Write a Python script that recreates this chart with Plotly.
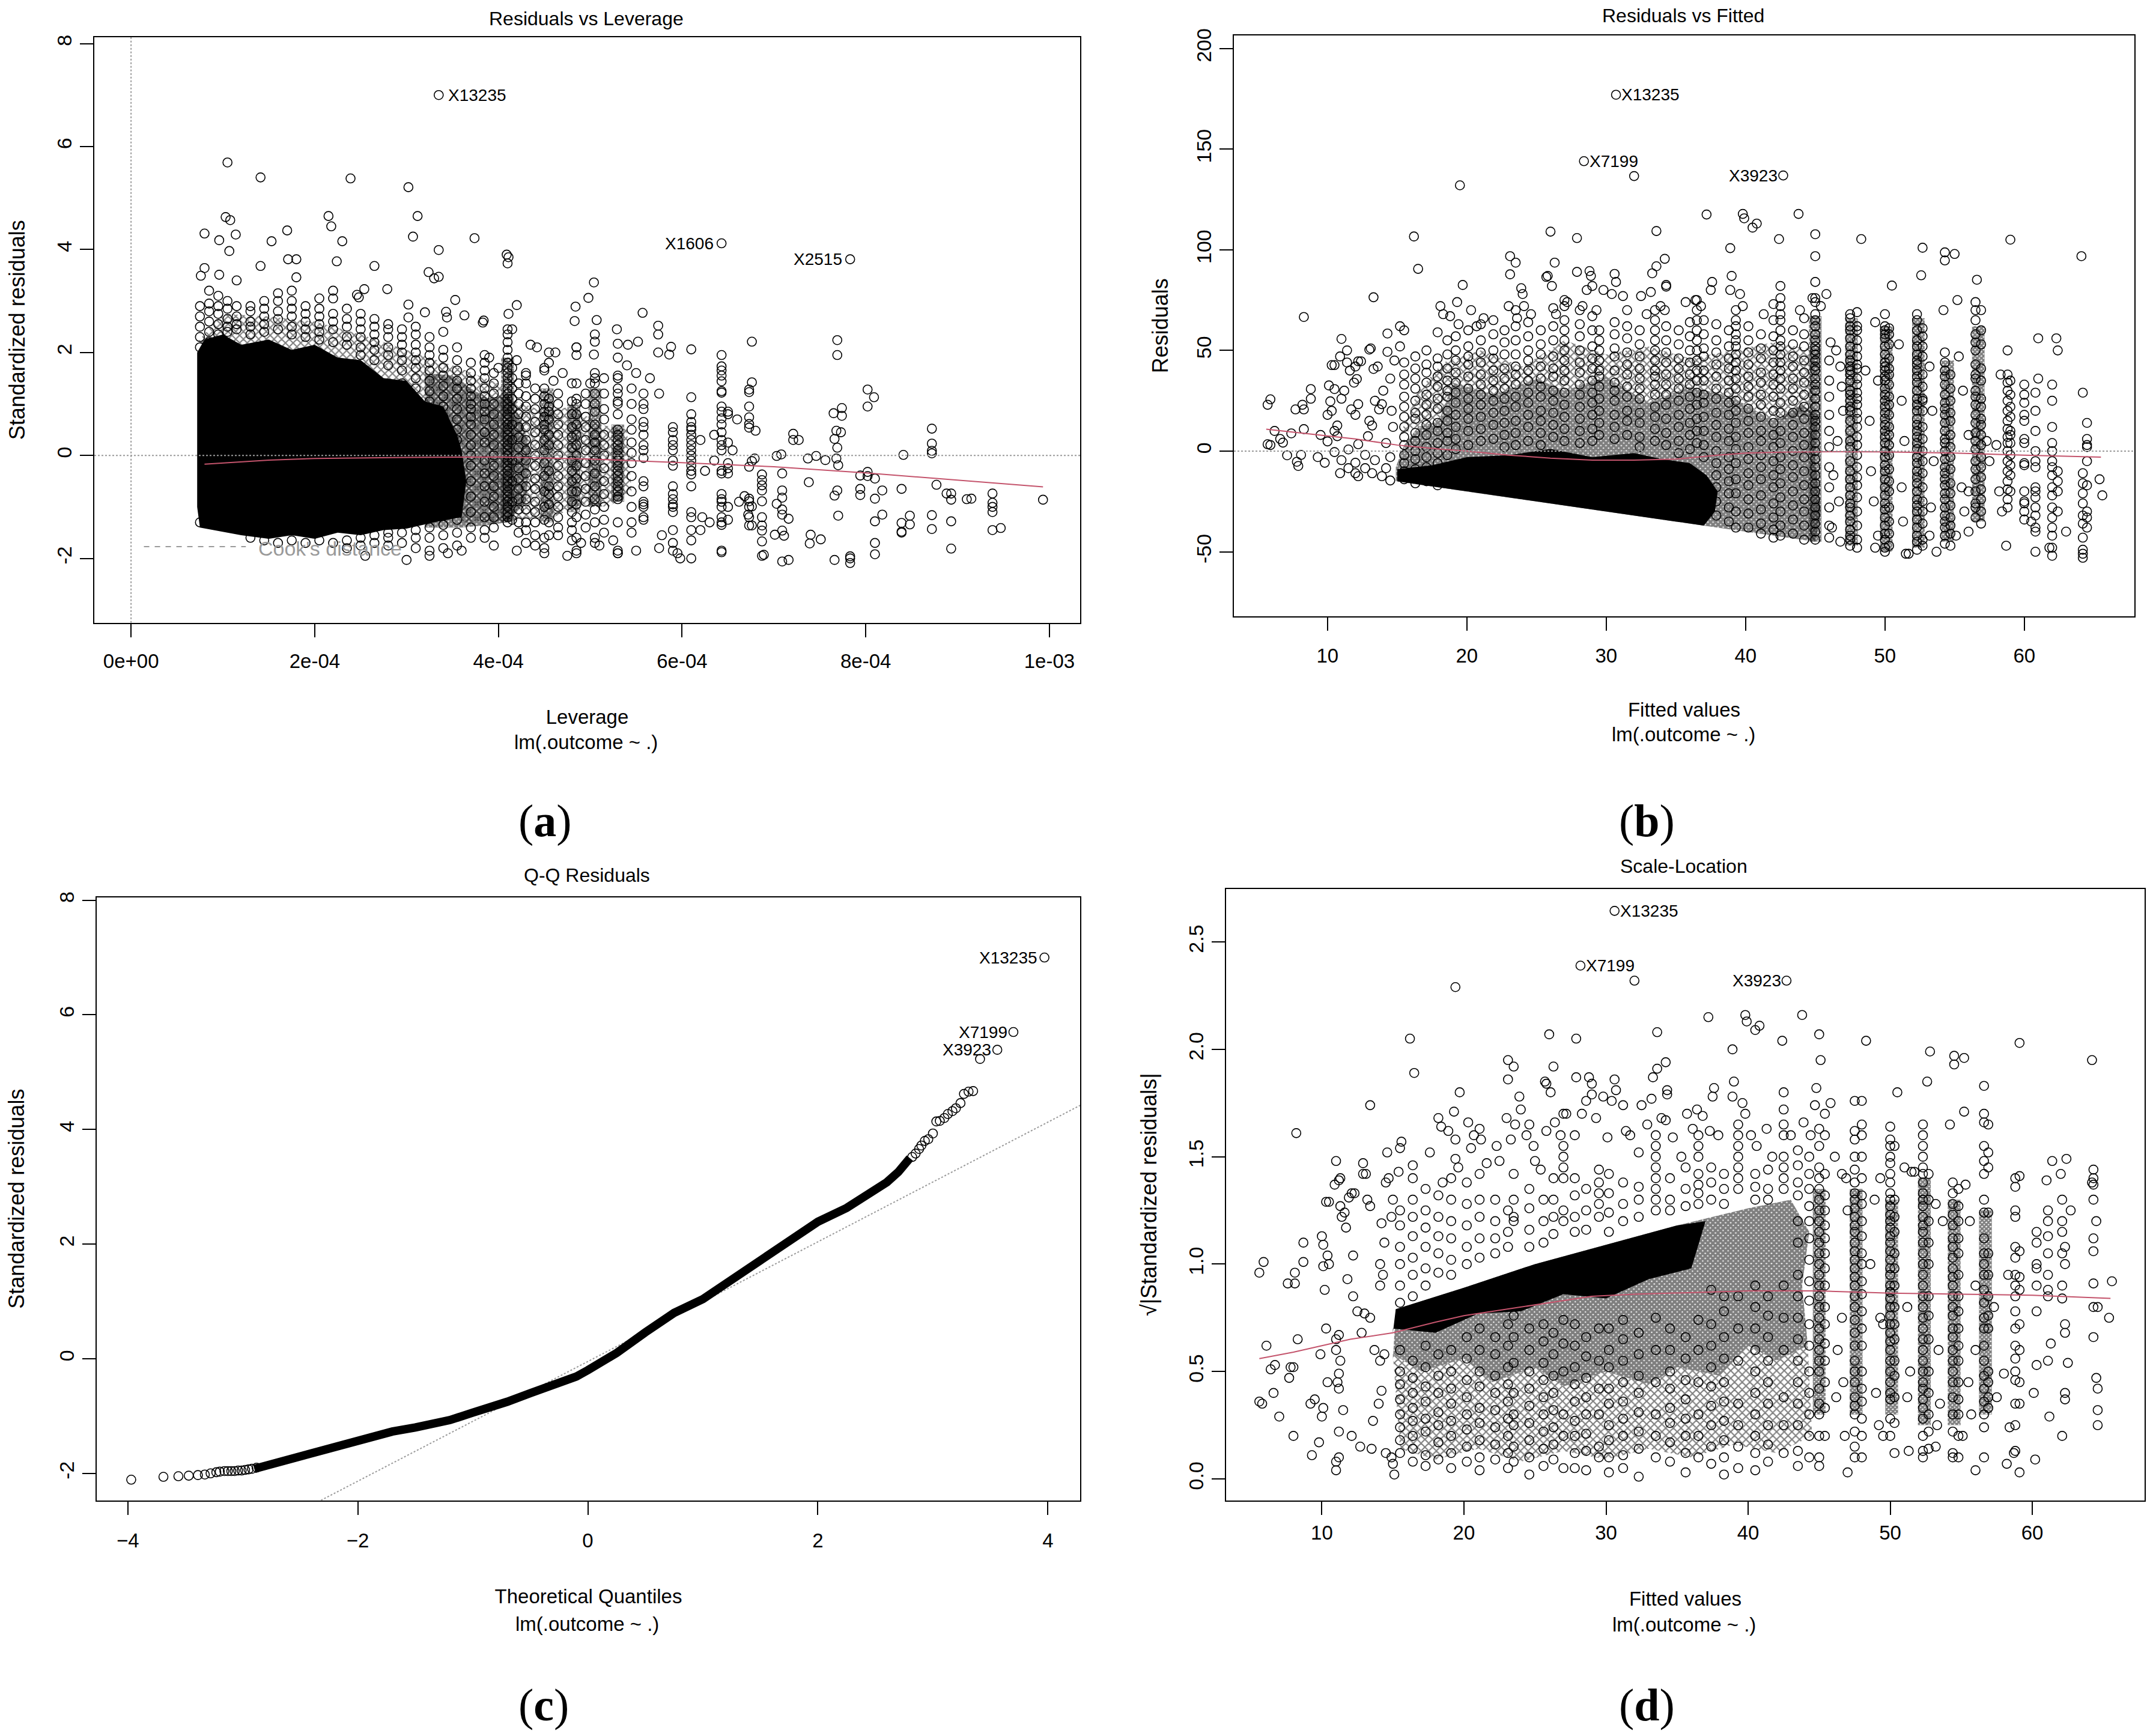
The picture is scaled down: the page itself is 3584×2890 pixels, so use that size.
import plotly.graph_objects as go

W, H = 3584, 2890
SANS = "Liberation Sans, Arial, sans-serif"
SERIF = "Liberation Serif, serif"
RED = "#C4546C"
GREY = "#9a9a9a"

# ---------- panel (a) Residuals vs Leverage; leverage in units of 1e-4 ----------
a_free = [(3.35,7.0),(1.05,5.69),(1.41,5.4),(2.39,5.38),(3.02,5.21),(3.12,4.65),(1.03,4.63),(1.08,4.57),(.8,4.31),(1.14,4.29),(.96,4.18),(1.53,4.16),(1.7,4.37),(2.15,4.65),(2.18,4.45),(2.3,4.16),(1.07,3.97),(3.07,4.25),(3.35,3.99),(3.74,4.22),(4.09,3.9),(4.11,3.85),(4.1,3.73),(6.43,4.12),(7.83,3.81),(1.71,3.81),(1.8,3.81),(1.41,3.68),(2.24,3.77),(2.65,3.68),(.8,3.64),(.96,3.51),(.76,3.49),(1.8,3.46),(3.24,3.56),(3.35,3.47),(3.3,3.44),(5.04,3.36),(4.98,3.06),(4.84,2.89),(4.83,2.61),(5.07,2.63),(5.57,2.77),(5.29,2.45),(5.74,2.52),(5.74,2.35),(4.2,2.92),(4.11,2.75),(3.53,3.02),(3.43,2.79),(3.44,2.68),(3.63,2.72),(3.84,2.62),(3.83,2.58),(3.2,2.78),(3.02,2.93),(3.02,2.68),(2.79,3.23),(2.54,3.23),(2.46,3.12),(2.48,3.07),(5.05,2.35),(5.05,2.21),(5.04,1.96),(5.3,2.17),(5.41,2.15),(5.52,2.21),(5.74,2),(5.86,1.96),(5.88,2.11),(6.1,2.06),(6.76,2.21),(7.69,2.24),(7.69,1.95),(8.02,1.28),(8.09,1.13),(8.02,.95),(7.74,.77),(7.65,.82),(7.74,.92),(8.72,.52),(8.72,.23),(8.72,.09),(8.72,.04),(8.41,.01),(7.73,.45),(7.68,.48),(7.66,.32),(7.69,.15),(7.21,.42),(7.27,.3),(7.21,.3),(7.03,-.01),(7.08,.02),(7.37,-.06),(7.46,-.01),(7.56,-.09),(7.68,-.06),(7.7,-.19),(7.38,-.52),(7.69,-.68),(7.66,-.78),(7.7,-1.17),(7.94,-.39),(8.02,-.32),(8.02,-.4),(8.1,-.45),(7.94,-.65),(7.94,-.77),(8.18,-.68),(8.1,-.84),(8.18,-1.15),(8.1,-1.28),(8.39,-.65),(8.77,-.57),(8.88,-.74),(8.93,-.74),(8.93,-.86),(9.1,-.85),(9.15,-.84),(9.38,-.74),(9.38,-.92),(9.38,-1.0),(9.38,-1.1),(9.93,-.86),(8.48,-1.17),(8.39,-1.31),(8.48,-1.34),(8.39,-1.48),(8.39,-1.5),(8.72,-1.16),(8.72,-1.43),(8.93,-1.28),(8.93,-1.81),(9.38,-1.45),(9.47,-1.41),(8.1,-1.7),(8.1,-1.92),(7.83,-1.96),(7.83,-2),(7.83,-2.09),(7.66,-2.03),(7.09,-2.06),(7.16,-2.03),(7.39,-1.71),(7.4,-1.54),(7.51,-1.63),(6.87,-1.95),(6.89,-1.93),(7.01,-1.54),(7.09,-1.46),(7.11,-1.56),(7.09,-1.15),(7.16,-1.23),(7.09,-1.05),(7.09,-.82),(7.09,-.68),(7.09,-.35),(7.03,-.94),(6.79,-.06),(6.76,-.11),(6.73,-.22),(6.8,.48),(6.76,1.42),(6.68,-.79),(6.73,-.84),(6.76,-.99),(6.72,-1.15),(6.76,-1.36),(6.2,.3),(6.25,-.3),(6.22,-1.2),(6.3,-1.3),(6.35,.4),(6.35,-.1),(6.55,.1),(6.6,.7),(6.62,-.9),(4.15,2.45),(4.35,2.15),(4.42,2.1),(4.5,1.7),(4.62,2.0),(4.7,1.6),(4.85,2.1),(4.2,1.85),(4.3,1.55),(5.15,1.5),(5.4,1.75),(5.5,1.6),(5.65,1.5),(5.75,1.2),(4.0,1.7),(3.9,1.9),(4.6,1.45),(4.85,1.4),(5.0,1.4),(2.55,-1.95),(3.0,-2.03),(3.25,-1.95),(3.45,-1.9),(3.6,-1.85),(3.85,-1.6),(3.95,-1.75),(4.2,-1.85),(4.4,-1.75),(4.5,-1.9),(4.65,-1.55),(4.75,-1.95),(4.85,-1.9),(4.9,-1.7),(5.05,-1.6),(5.1,-1.75),(5.25,-1.65),(5.3,-1.9),(5.5,-1.85),(5.75,-1.8),(5.78,-1.55),(5.95,-1.9),(5.98,-2.0),(6.2,-1.45)]
a_col_x = [.75,.85,.95,1.05,1.15,1.3,1.45,1.6,1.75,1.9,2.05,2.2,2.35,2.5,2.65,2.8,2.95,3.1,3.25,3.4,3.55,3.7,3.85,3.95,4.1,4.15,4.22,4.3,4.4,4.5,4.55,4.65,4.8,4.85,4.95,5.05,5.15,5.3,5.45,5.58,5.9,6.1,6.43,6.5,6.73,6.87]
a_col_y = [
 [2.9,2.7,2.5,2.3,2.1,-1.3],[3.2,2.95,2.8,2.6,2.4,2.2],[3.1,2.9,2.75,2.55,2.35],[3.0,2.85,2.65,2.5,2.4],[3.4,2.9,2.7,2.55,2.45],[2.9,2.8,2.6,2.5,2.35,-1.6],[3.0,2.85,2.7,2.55,2.4,-1.65],[3.15,3.0,2.8,2.65,2.45,-1.7],[3.2,3.0,2.85,2.7,2.5,2.35,-1.65],[2.9,2.75,2.6,2.45,2.3,-1.7],[3.05,2.85,2.7,2.55,2.4,2.25,-1.65],[3.2,3.05,2.75,2.6,2.45,2.2,-1.7],[2.85,2.65,2.5,2.3,2.15,-1.65,-1.8],[2.75,2.6,2.45,2.3,2.1,1.95,-1.6,-1.75],[2.65,2.5,2.35,2.2,2.05,1.85,-1.55,-1.7],[2.55,2.45,2.3,2.1,1.95,1.75,-1.5,-1.6,-1.75],[2.45,2.3,2.15,2,1.85,1.65,1.4,-1.5,-1.7],[2.5,2.35,2.15,2,1.85,1.7,1.5,1.3,-1.45,-1.6,-1.8],[2.3,2.1,1.95,1.8,1.65,1.45,1.25,1.05,-1.4,-1.6,-1.85],[2.4,2.05,1.9,1.7,1.55,1.35,1.15,.95,.75,-1.35,-1.55,-1.8],[2.1,1.85,1.65,1.45,1.3,1.1,.9,.7,.5,.3,-1.25,-1.5,-1.75],
 [1.8,1.6,1.45,1.3,1.15,1,.9,.75,.6,.4,.2,0,-.2,-.5,-.8,-1.1,-1.4,-1.6],
 [1.95,1.8,1.65,1.5,1.3,1.15,1,.85,.7,.45,.25,-.1,-.35,-.6,-.9,-1.2,-1.45],
 [1.6,1.4,1.2,1,.8,.6,.4,.2,0,-.2,-.4,-.6,-.8,-1,-1.2,-1.4],
 [2.45,2.35,2.2,2.05,1.9,1.8,1.7,1.6,1.5,1.4,1.3,1.2,1.1,1,.9,.8,.7,.6,.5,.4,.3,.2,.1,0,-.1,-.2,-.3,-.4,-.5,-.6,-.7,-.8,-.9,-1,-1.1,-1.2,-1.3],
 [1.7,1.5,1.3,1.1,.9,.6,.3,-.1,-.5,-.9,-1.25],
 [1.4,1.2,1,.8,.55,.35,.15,-.05,-.25,-.45,-.65,-.85,-1.05,-1.3,-1.5],
 [1.6,1.4,1.15,.95,.75,.55,.3,.1,-.1,-.35,-.6,-.85,-1.05,-1.3,-1.45,-1.7],
 [1.3,1.1,.9,.65,.45,.2,0,-.2,-.45,-.65,-.9,-1.1,-1.3,-1.55],
 [1.65,1.3,1.15,1,.85,.75,.6,.5,.3,.1,-.15,-.4,-.7,-1.0,-1.25,-1.6,-1.8],
 [2.0,1.8,1.1,.95,.85,.7,.4,.2,-.3,-.6,-.75,-.95,-1.3,-1.55],
 [1.2,1,.8,.6,.4,.2,0,-.2,-.4,-.6,-.8,-1,-1.2,-1.4],
 [1.4,1.05,.8,.55,.35,.15,-.1,-.3,-.5,-.7,-.9,-1.1,-1.3,-1.45,-1.65],
 [2.1,1.95,1.1,1,.8,.6,.4,.2,0,-.2,-.45,-.7,-.95,-1.2,-1.6,-1.85],
 [1.2,1,.75,.55,.3,.1,-.15,-.4,-.65,-.9,-1.15,-1.4],
 [1.6,1.5,1.4,1.2,1,.85,.6,.4,.25,.1,-.1,-.35,-.6,-.85,-1.05,-1.3,-1.7],
 [1.2,.9,.7,.4,.2,0,-.25,-.5,-.75,-1,-1.25,-1.5],
 [1.9,1.55,1.5,1.3,1.2,1.05,1,.8,.5,.4,.3,.2,.1,0,-.1,-.2,-.3,-.4,-.5,-.6,-.7,-.8,-.85,-1.3,-1.85,-1.9],
 [1.3,1,.7,.5,.25,.05,-.15,-.4,-.7,-1,-1.3,-1.5],
 [1.2,1,.9,.65,.55,.4,.2,.1,-.05,-.5,-.6,-.9,-.95,-1,-1.2,-1.25],
 [.55,.45,.3,.2,.1,-.1,-.2,-.6,-.75,-.85,-.95,-1.0,-1.1,-1.45,-1.7,-1.85],
 [1.13,.8,.65,.55,.5,.4,.3,.2,.1,0,-.1,-.2,-.3,-.37,-.6,-1.1,-1.2,-1.45,-1.65,-2],
 [1.95,1.73,1.65,1.55,1.44,1.25,1.22,.95,.85,.72,.6,.45,.3,.2,.1,-.3,-.35,-.75,-.85,-.9,-1,-1.2,-1.3,-1.35,-1.85,-1.88],
 [.85,.8,.25,-.15,-.25,-.35,-1,-1.25],
 [1.28,1.23,.95,.74,.61,.54,-.89,-1.0,-1.2,-1.36],
 [-.37,-.48,-.58,-.68,-.89,-1.2,-1.36,-1.46,-1.67],
]
a_solid_x = [.72,.8,1,1.2,1.5,1.75,2,2.25,2.5,2.75,3,3.2,3.4,3.55,3.6,3.65,3.6,3.3,3,2.75,2.5,2.25,2,1.75,1.5,1.2,.9,.75,.72]
a_solid_y = [2.0,2.25,2.35,2.15,2.25,2.05,2.15,1.9,1.85,1.5,1.45,1.05,.95,.4,.1,-.5,-1.2,-1.3,-1.42,-1.45,-1.55,-1.5,-1.62,-1.55,-1.62,-1.55,-1.45,-1.4,-1]
a_mid_x = [3.2,3.5,3.7,3.9,4.1,4.25,4.35,4.3,4.1,3.9,3.6,3.2]
a_mid_y = [1.6,1.55,1.3,1.1,1.2,.7,.1,-.9,-1.3,-1.35,-1.4,-1.4]
a_light_x = [.72,1,1.5,2,2.5,3,3.5,4,4.2,4.5,4.8,5.1,5.4,5.45,5.2,4.9,4.6,4.3,3.6,3.6]
a_light_y = [2.2,2.75,2.7,2.6,2.35,2.05,1.75,1.4,1.05,.85,.95,.6,.5,-.7,-1.0,-.95,-1.2,-1.25,-1.3,.2]
a_band_x = [4.1,4.53,4.82,5.05,5.3]
a_band_lo = [-1.3,-1.3,-1.1,-1.0,-.9]
a_band_hi = [1.9,1.3,1.0,1.3,.6]
a_smooth_x = [.8,1.5,2,3,4,5,6,7,8,9,9.93]
a_smooth_y = [-.17,-.09,-.06,-.04,-.03,-.07,-.14,-.22,-.34,-.48,-.61]
a_cook_x = [.14,.5,1.0,1.25]
a_cook_y = [-1.77,-1.77,-1.77,-1.77]

# ---------- panel (b) Residuals vs Fitted ----------
b_free = [(30.7,177),(28.4,144),(32,136.6),(42.7,136.9),(19.5,132),(37.2,117.5),(39.8,117.8),(39.9,115.6),(40.8,113),(40.5,111),(43.8,117.8),(16.2,106.6),(26,109),(27.9,105.8),(33.6,109.3),(42.4,105.3),(45,107.7),(48.3,105.3),(59,105),(38.9,100.8),(52.7,101),(54.3,98.7),(54.3,94.7),(55,97.9),(64.1,96.8),(45,96.8),(23.1,96.8),(23.5,93.6),(23.1,87.8),(16.5,90.5),(26.3,93.6),(25.7,86.5),(25.8,87),(27.9,89),(28.8,89.4),(28.9,87),(30.6,88),(33.3,88.3),(33.6,91.8),(34.2,95.5),(34.3,82.5),(34.3,81.7),(39,87),(52.6,87.3),(56.6,85.1),(50.5,82.2),(13.3,76.4),(8.3,66.6),(19.7,82.5),(23.9,80.9),
(5.7,23),(5.9,25.7),(5.7,3.4),(5.9,3),(6.2,10),(6.6,6),(6.8,4.2),(7.4,8.8),(7.1,-2.1),(7.7,20.7),(8.3,20.7),(8.2,23),(8.3,10.9),(8.8,26),(8.8,30.8),(8.1,-1.9),(7.8,-5.3),(7.9,-7.4),(9.3,-3),(9.5,8),(10.1,32.6),(10.5,30.8),(10.2,24.7),(11,26),(11,55.7),(11.4,50),(10.9,47),(10.5,42.7),(10.3,42.7),(11.4,44),(12,42),(11.6,40),(12.2,44.6),(12.4,44.6),(12.1,35.8),(11.9,34),(13.1,51),(13,50.4),(13.6,42),(13.3,40.8),(14.3,58.4),(14.3,49.3),(11.2,30),(10.3,20),(10,18),(11.7,20.7),(12.2,23.3),(12,18),(13.2,12.7),(12.9,7.4),(13.9,23.3),(13.7,20.7),(10.7,12.7),(10.5,10),(10.7,7.4),(10,4.8),(9.8,-5.8),(10.5,-.5),(11,-4.5),(10.9,-11),(11.5,-8.5),(12,-11),(12.2,-12.5),(12.7,-8.5),(13.2,-11),(13.9,-12.5),(14.5,-14.6),(12,-5.8),(12.7,-1.9),(13.4,-4.5),(14.2,-8.5),(11.5,.8),(12.2,3.4),(13,15),(13.4,25),(14,30),(14.5,36),(14.7,12),(14.2,4),(14.5,-3),(14.6,20),(14.8,45),(15.2,62),(15.5,60),(15.2,52),(17.9,59),(18.1,72),(18.3,68),(18.8,67),(19.3,74),(19.4,63),(20.3,70),(20.7,62),(21.2,66),(23,72),(23.6,66),(24,78),(24.1,72),(24.6,68),(26.1,82),(26.4,68),(27.2,74),(28.3,72),(28.6,80),(29,82),(29.3,70),(29.8,80),(30.4,78),(30.7,84),(31.2,77),(32.5,77),(32.9,68),(33.2,79),(33.9,72),(34.2,70),(35.7,74),(36.4,75),(36.8,72),(37.5,80),(37.6,84),(38.9,80),(39.6,78),(39.8,72),(41.3,68),(43.9,70),(44.8,76),(45.4,72),(45.8,78),(46.1,54),(46.5,50),(46.8,42),(46.9,32),(47,20),(46.6,5),(46.3,-12),(46.7,-25),(46.2,-38),(46.8,-45),(48.6,40),(48.9,15),(49,-10),(49.2,-25),(49.3,64),(49.5,35),(49.3,-48),(49.5,-42),(51,53),(51.2,25),(51.4,5),(51.2,-18),(51.3,-35),(51.5,-51),(51.7,-51),(53.2,42),(53.4,20),(53.5,-5),(53.3,-28),(53.2,-42),(53.7,-50),(54.2,70),(55.2,75),(55.6,30),(55.3,47),(55.5,-18),(55.7,-30),(55.1,-42),(56,8),(56,-20),(56,-40),(57.3,5),(57.5,-5),(58.3,38),(58,3),(58.2,-20),(58.4,-30),(58.7,-47),(61,56),(61,36),(60.5,-35),(61.8,-48),(62.3,56),(62.4,50),(63,-40),(65.4,-14),(65.6,-22)]
b_col_x = [15.5,16.3,17.1,17.9,18.6,19.2,20.1,21,21.9,22.7,23.5,24.4,25.3,26.2,27,28.1,29,29.5,30.6,31.5,32.4,33.5,34.3,35.2,36,36.5,37,37.9,38.8,39.3,40.2,41.1,42,42.5,43.4,44.2,45,46,47.5,48,50,50.3,52.3,52.7,54.3,54.7,56.5,56.9,58.8,59,60,60.8,62,62.4,64.2,64.5]
b_col_y = [
 [44,38,33,27,22,17,12,7,3,-2,-6,-10,-14],[47,41,36,31,25,19,16,9,5,0,-4,-9,-13,-16],[50,43,39,34,28,23,18,13,8,2,-3,-8,-15],[46,42,37,32,26,21,14,10,4,-1,-6,-12,-17],[55,48,41,35,30,27,20,15,9,5,-2,-9],[57,50,45,39,34,29,24,18,12,6,1],[60,52,47,43,37,31,26,21,16,10,3],[63,55,49,44,38,33,28,23,17,11,5],[65,58,50,46,40,35,30,25,19,13,6],[60,54,48,41,36,31,26,20,14,8,2],
 [70,62,55,48,42,38,33,27,22,15,9,3],[64,57,50,45,40,35,29,24,18,12,5],[60,53,48,42,36,32,27,20,15,9,3],[71,62,55,47,41,37,30,25,19,13,7],[75,72,65,60,55,50,45,40,35,29,23,17,11,5],[70,63,57,50,44,39,33,28,22,16,10,4],[67,60,52,46,41,35,29,24,18,11,5],[60,55,50,45,40,37,32,26,20,14,8],[64,58,51,47,40,34,30,25,18,12,6],[70,62,56,49,43,38,32,27,20,15,8],[60,53,47,41,36,31,26,19,14,7,2],[70,65,60,55,50,45,40,37,33,28,22,17,11,5],[62,55,49,44,38,33,28,23,16,9,3],[60,53,46,41,36,31,25,18,12,5,-1],[64,57,50,44,38,33,27,21,14,8,1],[75,70,65,60,55,50,45,40,35,29,23,16,10,4],[65,58,51,47,40,35,28,24,17,10,3,-3],[63,55,49,43,37,31,26,19,13,7,0,-6,-12,-18,-25,-32],[60,52,46,41,35,29,24,18,11,5,-3,-9,-15,-21,-28,-35],[70,65,62,58,55,52,48,44,40,36,31,25,20,14,7,1,-6,-14,-21,-30,-38],[62,55,49,43,37,32,27,21,15,9,2,-4,-11,-17,-24,-31,-38],[58,51,46,39,34,28,23,17,10,5,-2,-8,-14,-22,-29,-36,-41],[73,65,57,50,44,38,33,27,20,14,8,2,-5,-12,-18,-26,-33,-39,-43],[82,76,72,68,65,60,55,52,48,44,40,36,31,24,19,10,4,-3,-9,-16,-23,-30,-37,-42],[60,53,47,42,36,31,25,19,13,7,0,-7,-13,-20,-27,-34,-41],[66,58,52,45,39,34,28,22,16,9,3,-3,-10,-17,-24,-30,-37,-44],
 [84,76,74,68,65,62,58,55,52,50,48,45,42,40,36,33,30,26,22,18,15,12,8,4,0,-4,-8,-12,-16,-20,-24,-28,-32,-36,-40,-44],
 [45,35,27,18,10,2,-8,-18,-28,-37,-43],
 [68,66,62,60,56,52,48,45,42,40,38,35,30,28,25,22,20,15,10,5,2,-5,-10,-14,-18,-22,-26,-28,-32,-35,-39,-42,-44,-47],
 [69,62,60,55,51,47,43,41,36,33,29,26,23,19,16,12,7,3,-2,-8,-13,-17,-23,-30,-37,-44,-48],
 [68,62,60,58,56,52,48,44,42,40,37,35,31,28,25,22,19,16,13,10,7,4,0,-3,-7,-10,-14,-18,-22,-26,-29,-33,-37,-41,-44,-48,-50],
 [61,58,53,46,41,38,33,27,23,18,12,8,3,-2,-9,-15,-20,-28,-35,-41,-47],
 [68,65,60,55,52,48,45,43,40,37,34,30,26,23,20,16,13,10,7,4,1,-3,-6,-10,-13,-16,-20,-24,-27,-30,-34,-38,-42,-45,-49],
 [61,57,52,47,38,32,26,25,20,12,6,0,-5,-11,-18,-25,-30,-36,-44,-47],
 [49,44,40,37,33,28,24,21,18,14,10,6,4,0,-4,-8,-11,-14,-17,-21,-24,-28,-32,-35,-38,-42,-46],
 [38,31,25,19,15,8,2,-3,-9,-16,-21,-27,-33,-37,-41,-47],
 [74,70,65,58,54,50,43,38,36,30,27,23,18,14,9,5,1,-5,-9,-14,-20,-26,-28,-33],
 [70,60,53,41,35,26,22,16,13,8,3,-3,-8,-13,-19,-24,-30,-36],
 [50,38,34,30,25,20,15,11,7,4,0,-5,-10,-15,-19,-24,-28],
 [35,28,22,17,10,8,4,-2,-7,-12,-20],
 [33,28,24,18,15,6,4,-6,-7,-20,-25,-30,-34,-26],
 [29,20,10,0,-5,-8,-18,-20,-23,-28,-32,-38,-40,-50],
 [33,25,12,4,0,-5,-8,-12,-18,-22,-28,-33,-38,-42,-48,-52],
 [-10,-15,-20,-30],
 [29,-11,-16,-21,-26,-32,-36,-43,-49,-51,-53],
 [14,6,3,2,-5,-17,-30,-33,-38],
]
b_solid_x = [15,25,35,37,37.8,38,37.2,36,34,32,29,26,23,20,17.5,15]
b_solid_y = [-15,-25,-35,-37,-30,-20,-12,-6,-4,-1,-3,1,-2,-3,-7,-9]
b_mid_x = [14.9,38,45,45.4,45,45.2,44,42,39,36,33,30,27,25,22,19,18,16.5,15.5,14.9]
b_mid_y = [-15,-38,-45,-30,-5,18,23,15,27,32,24,37,30,36,28,34,15,12,3,-8]
b_light_x = [15.2,16.5,18.3,21,24,27,30,33,36,39,42,45.2,45,42,39,36,33,30,27,25,22,19,18,16.5]
b_light_y = [8,30,44,50,42,55,48,52,46,50,54,50,18,15,27,32,24,37,30,36,28,34,15,12]
b_band_x = [45,47.6,50.1,52.4,54.5,56.7]
b_band_lo = [-45,-47,-50,-48,-45,-35]
b_band_hi = [67,66,62,66,45,62]
b_smooth_x = [5.6,8,10,12,15,18,20,23,26,29,32,35,38,40,43,47,50,55,60,65.5]
b_smooth_y = [10.9,9,7.5,6,3,1,0,-2,-3.5,-4.5,-4.5,-4,-2,-1,-.5,-.3,-.4,-1,-2,-3]

# ---------- panel (c) Q-Q Residuals ----------
c_band_x = [-2.9,-2.7,-2.5,-2.2,-2,-1.85,-1.7,-1.5,-1.2,-1,-.85,-.7,-.5,-.25,-.1,0,.1,.25,.5,.75,1,1.25,1.5,1.75,2,2.25,2.5,2.6,2.7,2.8]
c_band_y = [-1.92,-1.81,-1.71,-1.54,-1.41,-1.33,-1.27,-1.2,-1.07,-.94,-.85,-.75,-.6,-.42,-.31,-.2,-.08,.1,.46,.8,1.04,1.37,1.69,2.06,2.39,2.63,2.93,3.08,3.26,3.5]
c_end_x = [-3.97,-3.69,-3.56,-3.47,-3.39,-3.33,-3.28,-3.23,-3.2,-3.16,-3.13,-3.1,-3.07,-3.04,-3.01,-2.98,-2.95,-2.92,-2.88,2.82,2.85,2.88,2.9,2.93,2.96,3.0,3.03,3.06,3.1,3.13,3.17,3.2,3.24,3.27,3.31,3.35,3.41,3.56,3.7,3.97]
c_end_y = [-2.11,-2.06,-2.05,-2.04,-2.03,-2.02,-2.0,-1.98,-1.97,-1.96,-1.96,-1.96,-1.96,-1.95,-1.95,-1.94,-1.93,-1.92,-1.9,3.52,3.58,3.66,3.72,3.8,3.83,3.93,4.14,4.15,4.2,4.27,4.32,4.37,4.46,4.62,4.66,4.67,5.23,5.39,5.7,7.0]
c_ref_x = [-2.32,4.28]
c_ref_y = [-2.47,4.42]

# ---------- panel (d) Scale-Location ----------
d_free = [(30.6,2.645),(28.2,2.39),(32,2.32),(42.7,2.32),(19.4,2.29),(37.2,2.15),(39.8,2.16),(39.9,2.13),(40.8,2.11),(40.5,2.09),(43.8,2.16),(16.2,2.05),(26,2.07),(27.9,2.05),(33.6,2.08),(42.4,2.04),(45,2.07),(48.3,2.04),(59.1,2.03),(38.9,2.0),(52.8,1.99),(54.5,1.97),(54.5,1.93),(55.2,1.96),(64.2,1.95),(45.1,1.95),(23.1,1.95),(23.5,1.92),(23.1,1.86),(16.5,1.89),(26.3,1.92),(25.7,1.85),(25.8,1.84),(27.9,1.87),(28.8,1.87),(29,1.84),(30.6,1.86),(33.3,1.87),(33.6,1.91),(34.2,1.94),(34.3,1.81),(34.3,1.79),(39,1.85),(52.6,1.85),(56.6,1.83),(50.5,1.8),(13.4,1.74),(8.2,1.61),(19.7,1.8),(23.9,1.78),
(5.6,.96),(5.9,1.01),(5.6,.36),(5.8,.35),(6.1,.62),(6.4,.51),(6.7,.53),(6.6,.4),(7,.29),(7.6,.91),(8.1,.91),(8.1,.96),(8.3,.65),(8.7,1.1),(8.7,1.01),(7.7,.47),(7.8,.52),(8,.52),(8,.2),(9.2,.35),(9.3,.11),(9.5,.37),(9.9,.58),(10,1.13),(10.1,1.09),(10.1,.99),(10.2,.88),(10.4,1.04),(10.5,1.0),(10.3,.7),(10.4,.45),(10.1,.33),(10,.29),(9.8,.17),(11,1.48),(11.2,1.39),(11.3,1.4),(10.9,1.37),(10.3,1.29),(10.5,1.29),(11.3,1.27),(11.4,1.22),(11.6,1.24),(11.9,1.31),(12.1,1.33),(12.3,1.33),(12.2,1.04),(11.7,1.17),(11.8,.93),(12.2,.85),(12.5,.78),(12.9,1.47),(12.9,1.42),(13.1,1.42),(13.4,1.27),(13.2,1.3),(14.2,1.19),(14.1,1.0),(14.3,.95),(14.1,.9),(14.4,1.1),(14.6,1.52),(14.5,1.38),(14.7,1.4),(14.9,1.22),(15,1.3),(13,.77),(12.8,.68),(13.4,.75),(13.7,.6),(14.4,.58),(14.1,.55),(11.2,.67),(11,.65),(11,.6),(11.3,.55),(11.2,.49),(11.1,.45),(11.2,.42),(11.5,.32),(11.2,.22),(11.2,.1),(11,.08),(11,.04),(12.1,.2),(12.7,.15),(13.5,.14),(13.6,.27),(14,.35),(14.2,.41),(14.5,.12),(14.9,.1),(15.1,.02),(15,.07),(15.6,1.57),(15.5,1.54),(15.4,1.43),(16.4,1.46),(16.4,1.4),(17.6,1.52),(18.2,1.68),(18.4,1.64),(18.5,1.38),(18.9,1.62),(19.3,1.71),(19.4,1.58),(19.4,1.49),(19.6,1.45),(20.3,1.66),(20.5,1.54),(20.7,1.6),(21.1,1.63),(21.2,1.58),(21.6,1.47),(22.3,1.55),(22.5,1.48),(23,1.68),(23.3,1.58),(23.6,1.65),(24,1.72),(24.4,1.6),(24.6,1.65),(24.9,1.55),(25,1.48),(25.4,1.44),(25.8,1.62),(26.1,1.8),(26.4,1.66),(26.8,1.6),(27.2,1.7),(27.8,1.6),(28.3,1.7),(28.6,1.76),(29,1.79),(29.3,1.68),(29.8,1.78),(30.1,1.59),(30.4,1.76),(30.7,1.81),(31.2,1.74),(31.4,1.62),(31.7,1.6),(32.3,1.52),(32.5,1.74),(32.9,1.65),(33.2,1.77),(33.9,1.68),(34.2,1.67),(34.7,1.59),(35.3,1.5),(35.7,1.7),(36.1,1.63),(36.4,1.72),(36.8,1.69),(37.3,1.62),(37.5,1.78),(37.6,1.82),(37.9,1.6),(38.9,1.78),(39.6,1.75),(39.8,1.7),(40.2,1.6),(40.6,1.55),(41.3,1.63),(41.7,1.5),(43,1.6),(43.5,1.53),(43.9,1.66),(44.4,1.6),(44.8,1.82),(44.7,1.74),(45.4,1.7),(45.8,1.75),(46.1,1.5),(46.6,1.42),(46.9,1.4),(47,1.25),(46.6,.75),(46.3,.6),(46.7,.45),(46.2,.38),(46.8,.2),(47,.03),(48.6,1.0),(48.9,1.3),(49,.4),(49.2,.25),(49.3,1.4),(49.5,.72),(49.3,.75),(49.5,.2),(51,1.45),(51.2,.8),(51.4,.5),(51.2,.38),(51.3,.13),(51.5,1.43),(51.7,1.43),(53.2,1.28),(53.4,.6),(53.5,.35),(53.3,.25),(53.2,.15),(53.7,1.2),(54.2,1.65),(55.2,1.71),(55.6,1.2),(55.3,1.37),(55.5,.45),(55.7,.3),(55.1,.2),(56,.9),(56,.6),(56,.04),(57.3,.8),(57.5,.38),(58.3,.95),(58,.49),(58.2,.07),(58.4,.24),(58.7,.12),(60.2,.09),(60.1,.4),(61,1.39),(61.4,1.48),(61.3,.63),(61.2,.29),(62,1.42),(62.4,1.49),(62.1,.2),(62.7,1.25),(62.5,.54),(64.3,1.44),(64.2,1.38),(64.5,1.2),(64.6,.8),(64.5,.47),(64.6,.42),(64.6,.32),(64.6,.25),(65.4,.75),(65.6,.92)]
d_col_x = [15.5,16.4,17.3,18.2,19.1,20.2,21.1,22.2,23.1,23.5,24.6,25.6,26.3,27,27.8,28.6,29.5,30.2,31.2,32.3,33.5,34.5,35.6,36.5,37.4,38.3,39.3,40.5,41.4,42.5,43.5,44.3,45,45.4,47.5,48,50,50.3,52.3,52.7,54.4,54.8,56.6,56.9,58.8,59.1,60.3,61.1,62.1,62.3,64.3]
d_col_y = [
 [1.25,1.18,1.08,1,.9,.82,.6,.5,.44,.37,.3,.24,.18,.12],[1.3,1.22,1.13,1.03,.95,.85,.55,.47,.4,.33,.27,.2,.14,.08],[1.35,1.25,1.17,1.08,.98,.9,.62,.52,.43,.36,.28,.22,.11,.06],[1.32,1.22,1.13,1.05,.96,.58,.48,.4,.31,.25,.17,.09],[1.4,1.3,1.2,1.12,1.02,.95,.6,.5,.42,.35,.27,.2,.12,.05],[1.38,1.28,1.18,1.08,1,.66,.56,.46,.38,.3,.23,.15,.08],[1.42,1.3,1.22,1.12,1.03,.7,.6,.5,.43,.33,.26,.18,.1,.04],[1.3,1.2,1.12,1.05,.66,.58,.48,.4,.32,.24,.16,.09],[1.25,1.15,1.08,.72,.62,.52,.44,.36,.28,.2,.12,.05],
 [1.42,1.3,1.22,1.2,.76,.66,.54,.4,.3,.25,.15,.08],[1.35,1.26,1.16,1.08,.7,.6,.5,.42,.34,.26,.18,.1,.02],[1.3,1.2,1.1,.72,.64,.54,.46,.38,.3,.22,.14,.06],[1.4,1.3,1.22,1.14,.68,.58,.48,.4,.32,.24,.16,.09],[1.7,1.55,1.5,1.45,1.4,1.25,1.2,.74,.63,.5,.3,.2,.05],[1.4,1.32,1.22,1.15,.72,.62,.52,.44,.36,.27,.2,.12,.05],[1.35,1.25,1.16,.66,.57,.47,.38,.3,.21,.13,.04],[1.44,1.38,1.33,1.28,1.22,.7,.55,.42,.3,.15,.1],[1.42,1.33,1.24,1.15,.7,.6,.52,.42,.35,.25,.18,.1,.03],[1.38,1.28,1.2,.74,.65,.55,.45,.36,.28,.2,.11,.05],[1.36,1.3,1.22,.68,.58,.48,.4,.31,.22,.14,.01],[1.6,1.55,1.5,1.45,1.4,1.35,1.3,1.25,.75,.6,.45,.3,.2,.1],[1.4,1.3,1.25,.7,.6,.5,.42,.33,.26,.17,.08],[1.45,1.35,1.27,.66,.56,.46,.37,.28,.2,.12,.03],[1.6,1.55,1.5,1.42,1.37,1.33,1.28,.74,.6,.45,.3,.2,.1],[1.45,1.38,1.3,.88,.72,.62,.52,.43,.34,.25,.15,.07],[1.42,1.35,1.28,.85,.78,.66,.56,.45,.36,.27,.18,.1,.02],[1.65,1.6,1.55,1.5,1.45,1.4,1.35,.85,.7,.55,.35,.25,.15,.05],[1.42,1.36,1.3,.9,.8,.7,.6,.5,.4,.3,.2,.12,.04],[1.44,1.35,1.3,.85,.76,.66,.55,.45,.35,.25,.16,.08],[1.8,1.72,1.65,1.6,1.5,1.45,1.4,1.35,.9,.75,.6,.38,.25,.12],[1.46,1.38,1.32,1.2,1.1,.95,.85,.75,.65,.55,.45,.35,.25,.13,.06],[1.5,1.42,1.35,1.27,1.2,1.12,1.02,.92,.83,.72,.62,.5,.4,.3,.2,.1],
 [1.63,1.55,1.45,1.4,1.35,1.3,1.25,1.2,1.15,1.1,1.05,1,.95,.9,.85,.8,.75,.7,.65,.6,.55,.5,.42,.35,.3,.2,.1,.06],
 [1.6,1.42,1.32,1.25,1.18,1.12,1.05,.98,.9,.8,.72,.63,.55,.45,.33,.2],
 [1.76,1.62,1.58,1.5,1.44,1.38,1.33,1.3,1.26,1.22,1.18,1.15,1.1,1.06,1.02,.98,.94,.9,.85,.8,.74,.68,.62,.55,.5,.45,.38,.34,.3,.22,.15,.1],
 [1.76,1.65,1.6,1.5,1.4,1.32,1.28,1.2,1.13,1.05,1,.92,.86,.78,.7,.62,.5,.42,.36,.28,.2,.1],
 [1.64,1.58,1.55,1.5,1.47,1.42,1.38,1.33,1.3,1.27,1.23,1.2,1.17,1.13,1.1,1.06,1.02,.98,.95,.9,.87,.84,.8,.76,.72,.68,.64,.6,.55,.5,.45,.4,.37,.28,.2],
 [1.55,1.3,1.22,1.15,1.05,.98,.9,.8,.72,.65,.55,.48,.38,.26,.12],
 [1.65,1.6,1.55,1.5,1.45,1.42,1.38,1.33,1.3,1.27,1.22,1.18,1.15,1.1,1.05,1,.95,.9,.85,.8,.75,.7,.65,.6,.55,.5,.45,.42,.37,.33,.28,.2,.13,.1],
 [1.42,1.3,1.2,1.1,1,.85,.76,.65,.5,.4,.3,.22,.14],
 [1.38,1.33,1.28,1.23,1.18,1.12,1.08,1.03,.98,.94,.9,.85,.8,.76,.7,.66,.6,.55,.5,.45,.38,.3,.22,.12,.1],
 [1.35,1.27,1.2,1.12,1.05,.95,.85,.78,.7,.62,.55,.45,.37,.3,.2,.1],
 [1.7,1.66,1.55,1.48,1.42,1.3,1.24,1.12,1.05,1,.95,.88,.82,.75,.7,.62,.55,.48,.42,.36,.3,.24,.1],
 [1.65,1.52,1.45,1.24,1.05,.95,.85,.76,.7,.5,.45,.38,.33],
 [1.4,1.36,1.25,1.22,1.08,1.03,.95,.9,.85,.78,.7,.62,.56,.5,.46,.35,.25,.13],
 [1.41,1.06,.94,.88,.72,.6,.45,.35,.03],
 [1.15,1.1,1,.98,.9,.78,.53],
 [1.25,1.2,1.13,1.05,.95,.88,.85,.55],
 [1.3,1.2,1.15,1.05,.9,.84],
 [1.08,1,.72,.68,.4,.37],
 [1.4,1.37,1.3,1.12,1.06,.91,.8,.66],
]
d_solid_x = [15,15.2,20,25,30,35,37,36,33,30,27,24,21,18,15]
d_solid_y = [.68,.79,.89,1.0,1.09,1.18,1.2,.98,.93,.84,.86,.78,.77,.68,.7]
d_mid_x = [15,15.2,20,25,30,35,40,43,44.3,43.8,44.2,42,40,38,35,33,30,27,25,22,20,17,15]
d_mid_y = [.55,.79,.89,1.0,1.09,1.18,1.26,1.3,1.15,.9,.62,.55,.62,.48,.52,.44,.5,.43,.52,.45,.56,.5,.58]
d_light_x = [15,17,20,22,25,27,30,33,35,38,40,42,44.2,44.5,42,39,36,33,30,27,24,21,18,15.5]
d_light_y = [.58,.5,.56,.45,.52,.43,.5,.44,.52,.48,.62,.55,.62,.2,.12,.16,.1,.14,.09,.13,.08,.14,.09,.14]
d_band_x = [45,47.6,50.1,52.4,54.5,56.7]
d_band_lo = [.3,.3,.3,.25,.25,.3]
d_band_hi = [1.35,1.35,1.3,1.4,1.3,1.25]
d_smooth_x = [5.6,8,10,12,15,18,20,23,26,29,32,35,40,45,50,55,60,65.5]
d_smooth_y = [.56,.59,.62,.65,.68,.73,.76,.79,.82,.85,.86,.865,.875,.875,.865,.86,.855,.84]

# ---------- tick labels ----------
a_tick_vals = [0, 2, 4, 6, 8, 10]
a_tick_text = ["0e+00", "2e-04", "4e-04", "6e-04", "8e-04", "1e-03"]
fit_ticks = [10, 20, 30, 40, 50, 60]


def expand(free, col_x, col_y):
    xs = [p[0] for p in free]
    ys = [p[1] for p in free]
    for cx, cy in zip(col_x, col_y):
        xs += [cx] * len(cy)
        ys += cy
    return xs, ys


fig = go.Figure()
def px_x(v): return v / W
def px_y(v): return 1 - v / H

boxes = {
    "": (157, 1798, 50, 1029),
    "2": (2054, 3553, 47, 1018),
    "3": (161, 1798, 1488, 2496),
    "4": (2041, 3570, 1474, 2496),
}
axis = dict(showline=True, mirror=True, linecolor="black", linewidth=2, ticks="outside",
            tickcolor="black", tickwidth=2, ticklen=22, showgrid=False, zeroline=False)
ranges = {
    "": ([-.4, 10.334], [-3.25, 8.125]),
    "2": ([3.28, 67.9], [-82, 206.5]),
    "3": ([-4.27, 4.28], [-2.47, 8.05]),
    "4": ([3.26, 67.9], [-.1, 2.747]),
}
titles = {
    "": ("Leverage", "Standardized residuals", [-2,0,2,4,6,8], 64, 36, 12),
    "2": ("Fitted values", "Residuals", [-50,0,50,100,150,200], 61, 30, 14),
    "3": ("Theoretical Quantiles", "Standardized residuals", [-2,0,2,4,6,8], 64, 41, 15),
    "4": ("Fitted values", "√|Standardized residuals|", [0,.5,1,1.5,2,2.5], 81, 36, 2),
}
layout = {}
for k, (l, r, t, b) in boxes.items():
    xa = dict(axis, domain=[px_x(l), px_x(r)], range=ranges[k][0], anchor="y" + k,
              tickfont=dict(family=SANS, size=33, color="black"), ticklabelstandoff=titles[k][5],
              title=dict(text=titles[k][0], font=dict(family=SANS, size=33, color="black"), standoff=titles[k][3]))
    ya = dict(axis, domain=[px_y(b), px_y(t)], range=ranges[k][1], anchor="x" + k,
              tickfont=dict(family=SANS, size=34, color="black"), tickangle=-90, ticklabelstandoff=0,
              tickvals=titles[k][2], ticktext=[("%g" % v) if k != "4" else ("%.1f" % v) for v in titles[k][2]],
              title=dict(text=titles[k][1], font=dict(family=SANS, size=36, color="black"), standoff=titles[k][4]))
    layout["xaxis" + k] = xa
    layout["yaxis" + k] = ya
layout["xaxis"].update(tickvals=a_tick_vals, ticktext=a_tick_text)
layout["xaxis2"].update(tickvals=fit_ticks)
layout["xaxis3"].update(tickvals=[-4,-2,0,2,4])
layout["xaxis4"].update(tickvals=fit_ticks)


def poly(x, y, k, pattern=None):
    kw = dict(fillcolor="black")
    if pattern:
        shape, size, solidity = pattern
        kw = dict(fillcolor="rgba(0,0,0,0)",
                  fillpattern=dict(shape=shape, size=size, solidity=solidity, fgcolor="black", bgcolor="rgba(0,0,0,0)", fillmode="overlay"))
    fig.add_trace(go.Scatter(x=x, y=y, mode="lines", fill="toself", line=dict(width=0),
                             hoverinfo="skip", showlegend=False, xaxis="x"+k, yaxis="y"+k, **kw))


MID = ("x", 6, .88)
LIGHT = ("x", 9, .42)
BAND = ("x", 5, .8)


def bands(cx, lo, hi, half, k):
    for c, a, b in zip(cx, lo, hi):
        poly([c - half, c + half, c + half, c - half], [a, a, b, b], k, BAND)


def circles(x, y, k):
    fig.add_trace(go.Scatter(x=x, y=y, mode="markers", showlegend=False, xaxis="x"+k, yaxis="y"+k,
                             marker=dict(symbol="circle-open", size=15, color="black", line=dict(width=1.6, color="black"))))


def line(x, y, k, color=RED, width=2, dash="solid"):
    fig.add_trace(go.Scatter(x=x, y=y, mode="lines", showlegend=False, xaxis="x"+k, yaxis="y"+k,
                             line=dict(color=color, width=width, dash=dash)))


# panel a
poly(a_light_x, a_light_y, "", LIGHT)
poly(a_mid_x, a_mid_y, "", MID)
poly(a_solid_x, a_solid_y, "")
bands(a_band_x, a_band_lo, a_band_hi, .07, "")
ax, ay = expand(a_free, a_col_x, a_col_y)
circles(ax, ay, "")
line(a_smooth_x, a_smooth_y, "")
line(a_cook_x, a_cook_y, "", GREY, 2, "dash")
line([-.4, 10.334], [0, 0], "", GREY, 2, "dot")
line([0, 0], [-3.25, 8.125], "", GREY, 2, "dot")
# panel b
poly(b_light_x, b_light_y, "2", LIGHT)
poly(b_mid_x, b_mid_y, "2", MID)
poly(b_solid_x, b_solid_y, "2")
bands(b_band_x, b_band_lo, b_band_hi, .45, "2")
bx, by = expand(b_free, b_col_x, b_col_y)
circles(bx, by, "2")
line(b_smooth_x, b_smooth_y, "2")
line([3.28, 67.9], [0, 0], "2", GREY, 2, "dot")
# panel c
line(c_ref_x, c_ref_y, "3", GREY, 2, "dot")
line(c_band_x, c_band_y, "3", "black", 14)
circles(c_end_x, c_end_y, "3")
# panel d
poly(d_light_x, d_light_y, "4", LIGHT)
poly(d_mid_x, d_mid_y, "4", MID)
poly(d_solid_x, d_solid_y, "4")
bands(d_band_x, d_band_lo, d_band_hi, .45, "4")
dx, dy = expand(d_free, d_col_x, d_col_y)
circles(dx, dy, "4")
line(d_smooth_x, d_smooth_y, "4")

ann = []
def note(text, x, y, xref="paper", yref="paper", family=SANS, size=33, color="black", xanchor="center"):
    ann.append(dict(text=text, x=x, y=y, xref=xref, yref=yref, showarrow=False, xanchor=xanchor, yanchor="middle",
                    font=dict(family=family, size=size, color=color)))

for text, cx, cy in [("Residuals vs Leverage", 976, 27), ("Residuals vs Fitted", 2802, 22),
                     ("Q-Q Residuals", 977, 1459), ("Scale-Location", 2803, 1444)]:
    note(text, px_x(cx), px_y(cy - 8), size=32)
for cx, cy in [(976, 1229), (2802, 1216), (977, 2703), (2803, 2704)]:
    note("lm(.outcome ~ .)", px_x(cx), px_y(cy))
for text, cx, cy in [("(<b>a</b>)", 907, 1360), ("(<b>b</b>)", 2741, 1360), ("(<b>c</b>)", 905, 2838), ("(<b>d</b>)", 2741, 2838)]:
    note(text, px_x(cx), px_y(cy), family=SERIF, size=76)

# outlier labels, anchored to their points
for t, x, y, xr, yr, anc in [
    ("X13235", 3.44, 7.0, "x", "y", "left"), ("X1606", 6.36, 4.12, "x", "y", "right"), ("X2515", 7.76, 3.81, "x", "y", "right"),
    ("X13235", 31.0, 177, "x2", "y2", "left"), ("X7199", 28.7, 144, "x2", "y2", "left"), ("X3923", 42.4, 136.9, "x2", "y2", "right"),
    ("X13235", 3.92, 7.0, "x3", "y3", "right"), ("X7199", 3.66, 5.7, "x3", "y3", "right"), ("X3923", 3.52, 5.39, "x3", "y3", "right"),
    ("X13235", 30.9, 2.645, "x4", "y4", "left"), ("X7199", 28.5, 2.39, "x4", "y4", "left"), ("X3923", 42.4, 2.32, "x4", "y4", "right"),
]:
    note(t, x, y, xr, yr, size=28, xanchor=anc)
note("Cook's distance", 1.37, -1.81, "x", "y", family=SANS, size=34, color=GREY, xanchor="left")

fig.update_layout(width=W, height=H, margin=dict(l=0, r=0, t=0, b=0), paper_bgcolor="white", plot_bgcolor="white",
                  showlegend=False, annotations=ann, **layout)
fig.write_html("out.html", config={"displayModeBar": False}, post_script="document.body.style.margin='0';")
